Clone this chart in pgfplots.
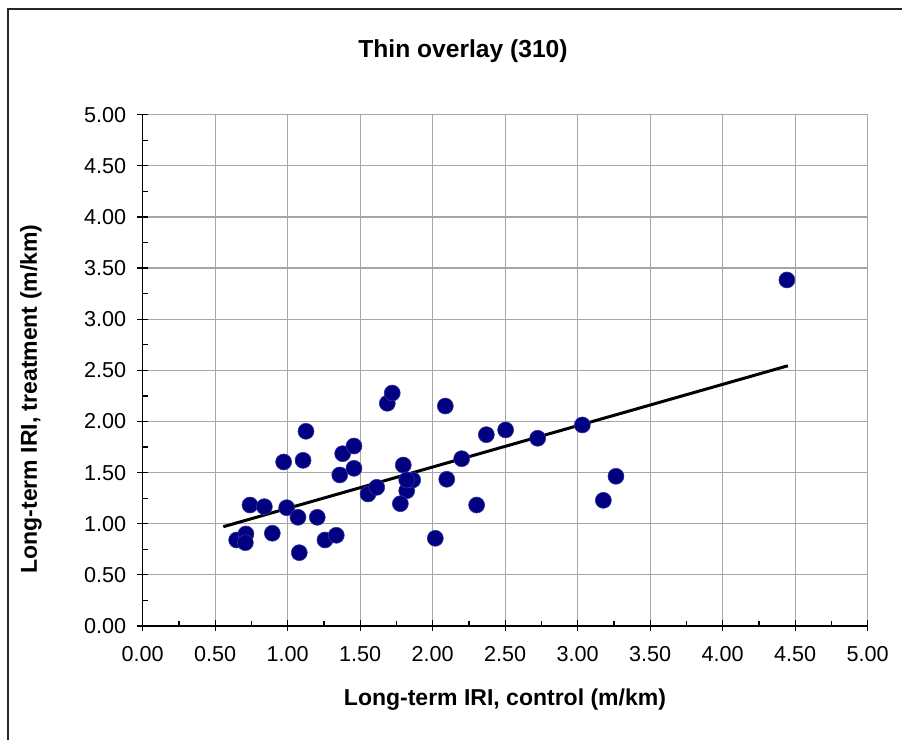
\documentclass[border=0pt]{standalone}
\usepackage{fontspec}
\setmainfont{Liberation Sans}
\usepackage{pgfplots}
\pgfplotsset{compat=1.18}
\definecolor{navyblue}{RGB}{0,0,128}
\definecolor{gridgray}{RGB}{166,166,166}

\begin{document}
\begin{tikzpicture}
  \useasboundingbox (-71.35pt,-57pt) rectangle (379.65pt,313pt);
  \draw[line width=1pt,black!85] (-67.35pt,-60pt) -- (-67.35pt,308.5pt) -- (382pt,308.5pt);
  \begin{axis}[
      at={(0pt,0pt)},anchor=origin,
      scale only axis,width=362.5pt,height=255.65pt,
      xmin=0,xmax=5,ymin=0,ymax=5,
      xtick={0,0.5,...,5},ytick={0,0.5,...,5},
      minor tick num=1,
      grid=major,
      major grid style={gridgray,line width=0.6pt},
      axis x line*=bottom,axis y line*=left,
      axis line style={black,line width=0.8pt},
      tick style={black,line width=0.6pt},
      tick align=center,
      major tick length=5.5pt,
      minor tick length=2.5pt,
      minor x tick style={yshift=1.25pt},
      minor y tick style={xshift=1.25pt},
      xticklabel style={font=\fontsize{10.8}{12}\selectfont,yshift=-4pt},
      yticklabel style={font=\fontsize{10.8}{12}\selectfont,xshift=-2pt},
      /pgf/number format/assume math mode=true,
      /pgf/number format/.cd,fixed,fixed zerofill,precision=2,
      /pgfplots/.cd,
      title={Thin overlay (310)},
      title style={font=\bfseries\fontsize{12.3}{14}\selectfont,
        at={(axis description cs:0.4418,1.101)},anchor=center,yshift=0pt},
      xlabel={Long-term IRI, control (m/km)},
      xlabel style={font=\bfseries\fontsize{11.5}{13}\selectfont,
        at={(axis description cs:0.4997,-0.1447)},anchor=center,yshift=0pt},
      ylabel={Long-term IRI, treatment (m/km)},
      ylabel style={font=\bfseries\fontsize{11.5}{13}\selectfont,
        at={(axis description cs:-0.1541,0.444)},anchor=center,rotate=0},
      clip=false,
    ]
    \addplot[only marks,mark=*,mark size=4pt,
      mark options={fill=navyblue,draw=navyblue!80!white,line width=0.3pt}]
      coordinates {
      (0.648,0.841)(0.712,0.900)(0.708,0.815)(0.740,1.183)(0.839,1.167)
      (0.894,0.907)(0.972,1.604)(0.993,1.157)(1.071,1.063)(1.080,0.717)
      (1.106,1.620)(1.126,1.904)(1.204,1.063)(1.257,0.841)(1.335,0.887)
      (1.359,1.477)(1.379,1.685)(1.457,1.760)(1.457,1.542)(1.554,1.291)
      (1.614,1.356)(1.687,2.178)(1.721,2.278)(1.797,1.574)(1.821,1.323)
      (1.862,1.428)(1.777,1.196)(1.821,1.428)(2.018,0.858)(2.087,2.151)
      (2.097,1.435)(2.200,1.636)(2.303,1.183)(2.370,1.871)(2.503,1.917)
      (2.724,1.836)(3.032,1.966)(3.264,1.464)(3.177,1.229)(4.443,3.384)
    };
    \addplot[black,line width=1.5pt] coordinates {(0.556,0.971)(4.45,2.545)};
  \end{axis}
\end{tikzpicture}
\end{document}
